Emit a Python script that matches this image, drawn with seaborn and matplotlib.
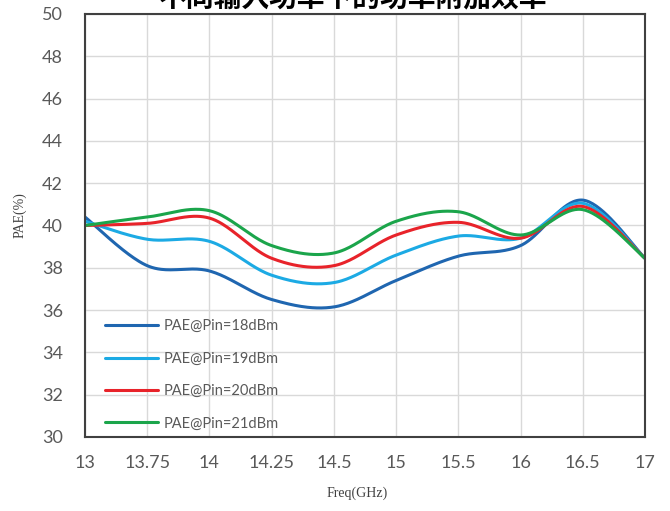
import numpy as np
import pandas as pd
import matplotlib
matplotlib.use("Agg")
import matplotlib.pyplot as plt
import seaborn as sns

# ---- data ----
freq_labels = ["13", "13.75", "14", "14.25", "14.5", "15", "15.5", "16", "16.5", "17"]
pae_18 = [40.4, 38.1, 37.85, 36.5, 36.15, 37.4, 38.55, 39.05, 41.2, 38.45]
pae_19 = [40.2, 39.35, 39.25, 37.65, 37.3, 38.6, 39.5, 39.4, 41.05, 38.45]
pae_20 = [40.0, 40.1, 40.35, 38.45, 38.1, 39.55, 40.15, 39.4, 40.9, 38.45]
pae_21 = [40.0, 40.4, 40.7, 39.05, 38.7, 40.2, 40.65, 39.55, 40.75, 38.45]
series_names = ["PAE@Pin=18dBm", "PAE@Pin=19dBm", "PAE@Pin=20dBm", "PAE@Pin=21dBm"]
series_colors = ["#1F66B0", "#1CAAE4", "#E8232A", "#1BA54B"]
title = "不同输入功率下的功率附加效率"


def smooth(xs, ys, n=40):
    """Catmull-Rom smoothing (like Excel's smoothed line) for rendering."""
    p = np.column_stack([xs, ys]).astype(float)
    p = np.vstack([p[0], p, p[-1]])
    out = []
    t = np.linspace(0, 1, n, endpoint=False)
    for i in range(1, len(p) - 2):
        p0, p1, p2, p3 = p[i - 1], p[i], p[i + 1], p[i + 2]
        c1 = p1 + (p2 - p0) / 6.0
        c2 = p2 - (p3 - p1) / 6.0
        tt = t[:, None]
        seg = ((1 - tt) ** 3) * p1 + 3 * ((1 - tt) ** 2) * tt * c1 + 3 * (1 - tt) * tt ** 2 * c2 + tt ** 3 * p2
        out.append(seg)
    out.append(p[-2][None, :])
    out = np.vstack(out)
    return out[:, 0], out[:, 1]


xpos = np.arange(len(freq_labels))
frames = []
for name, vals in zip(series_names, [pae_18, pae_19, pae_20, pae_21]):
    sx, sy = smooth(xpos, vals)
    frames.append(pd.DataFrame({"x": sx, "y": sy, "series": name}))
df = pd.concat(frames, ignore_index=True)

sns.set_theme(style="white")
plt.rcParams["font.family"] = ["Lato", "DejaVu Sans"]

fig = plt.figure(figsize=(6.7, 5.11), dpi=100)
ax = fig.add_axes([85 / 670, 1 - 437 / 511, 560 / 670, 423 / 511])

sns.lineplot(data=df, x="x", y="y", hue="series", hue_order=series_names,
             palette=series_colors, sort=False, estimator=None, linewidth=2.2, ax=ax)

ax.set_xlim(0, len(freq_labels) - 1)
ax.set_ylim(30, 50)
ax.set_xticks(xpos)
ax.set_xticklabels(freq_labels)
ax.set_yticks(np.arange(30, 51, 2))
ax.grid(True, color="#D9D9D9", linewidth=1.0)
ax.set_axisbelow(True)
ax.tick_params(axis="both", length=0, labelsize=13, labelcolor="#595959")
ax.tick_params(axis="y", pad=16)
ax.tick_params(axis="x", pad=13)
for s in ax.spines.values():
    s.set_visible(True)
    s.set_color("#404040")
    s.set_linewidth(1.5)
ax.set_xlabel("")
ax.set_ylabel("")

leg = ax.legend(loc="lower left", bbox_to_anchor=(0.024, 0.0), frameon=False,
                fontsize=10.5, handlelength=3.6, handletextpad=0.4, labelspacing=1.26,
                borderaxespad=0.05)
for t in leg.get_texts():
    t.set_color("#595959")
for h in leg.get_lines():
    h.set_linewidth(2.2)

fig.text(20 / 670, 1 - 215 / 511, "PAE(%)", rotation=90, ha="center", va="center",
         fontsize=10, family=["Liberation Serif", "DejaVu Serif"], color="#404040")
fig.text(357 / 670, 1 - 493 / 511, "Freq(GHz)", ha="center", va="center",
         fontsize=10, family=["Liberation Serif", "DejaVu Serif"], color="#404040")
fig.text(352 / 670, 1 - 7 / 511, title, ha="center", va="baseline", fontsize=20,
         fontweight="bold", family=["Noto Sans CJK SC", "DejaVu Sans"], color="black")

fig.savefig("out.png", dpi=100)
